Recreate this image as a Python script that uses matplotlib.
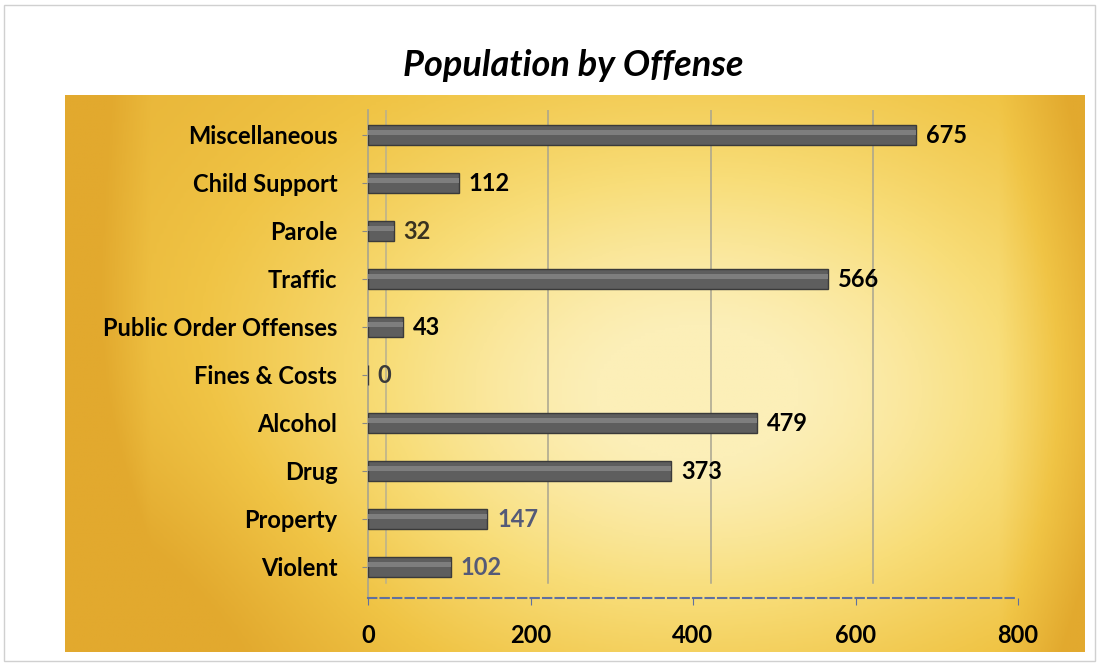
#!/usr/bin/env python3
# coding: utf-8

import numpy as np
import matplotlib
matplotlib.use('Agg')
import matplotlib.pyplot as plt
from matplotlib.patches import Rectangle
from matplotlib.colors import LinearSegmentedColormap

# --- data (bottom -> top)
offenses = ['Violent', 'Property', 'Drug', 'Alcohol', 'Fines & Costs',
            'Public Order Offenses', 'Traffic', 'Parole', 'Child Support',
            'Miscellaneous']
population = [102, 147, 373, 479, 0, 43, 566, 32, 112, 675]
x_ticks = [0, 200, 400, 600, 800]

plt.rcParams['font.family'] = ['Lato', 'DejaVu Sans']

fig = plt.figure(figsize=(10.99, 6.66), dpi=100)
fig.patch.set_facecolor('white')

# thin outer frame
fig.patches.append(Rectangle((0.004, 0.008), 0.992, 0.985, transform=fig.transFigure,
                             fill=False, edgecolor='#d0d0d0', lw=1.0))

# --- golden gradient background panel
bg = fig.add_axes([65 / 1099, 1 - 652 / 666, 1020 / 1099, 557 / 666])
gx, gy = np.meshgrid(np.linspace(0, 1, 300), np.linspace(0, 1, 200))
glow = np.exp(-(((gx - 0.62) / 0.45) ** 2 + ((gy - 0.45) / 0.55) ** 2))
edge = np.clip(1 - np.minimum(gx, 1 - gx) * 12, 0, 1) * 0.35
corner = np.exp(-((gx / 0.25) ** 2 + (gy / 0.35) ** 2)) * 0.3
shade = np.clip(glow - edge - corner + 0.1 * gy, 0, 1)
gold = LinearSegmentedColormap.from_list(
    'gold', ['#e2a92e', '#f0c445', '#f8dd78', '#fcefb8'])
bg.imshow(shade, cmap=gold, aspect='auto', extent=[0, 1, 0, 1],
          origin='lower', vmin=0, vmax=1)
bg.set_axis_off()

# --- main axes
ax = fig.add_axes([368 / 1099, 1 - 598 / 666, 650 / 1099, 488 / 666])
ax.patch.set_alpha(0)
ypos = np.arange(len(offenses))

# back "3D" gridlines, shifted a bit right
for xt in x_ticks[1:-1]:
    ax.axvline(xt + 22, ymin=0.03, ymax=1.0, color='#a8a490', lw=1.1, zorder=1)
ax.axvline(22, ymin=0.03, ymax=1.0, color='#b8b090', lw=1.1, zorder=1)

bars = ax.barh(ypos, population, height=0.42, color='#5e5e5e',
               edgecolor='#3a3a3a', linewidth=1.0, zorder=3)
ax.barh(ypos + 0.05, population, height=0.12, color='#7e7e7e',
        linewidth=0, zorder=4)

label_colors = ['#545a78', '#545a78', 'black', 'black', '#3a3a3a',
                'black', 'black', '#3a3320', 'black', 'black']
for y, v, c in zip(ypos, population, label_colors):
    ax.text(v + 12, y - 0.02, str(v), va='center', ha='left', fontsize=17,
            fontweight='bold', color=c, zorder=5)

ax.set_xlim(0, 800)
ax.set_ylim(-0.65, 9.52)
ax.set_xticks(x_ticks)
ax.set_xticklabels([str(t) for t in x_ticks], fontsize=17, fontweight='bold')
ax.set_yticks(ypos)
ax.set_yticklabels(offenses, fontsize=17, fontweight='bold')
ax.tick_params(axis='y', length=4, pad=18, color='#888888')
ax.tick_params(axis='x', length=5, pad=14, color='#6070a0')

for s in ['top', 'right']:
    ax.spines[s].set_visible(False)
ax.spines['left'].set_color('#a8a490')
ax.spines['left'].set_linewidth(1.2)
ax.spines['bottom'].set_color('#6070a0')
ax.spines['bottom'].set_linestyle((0, (4, 2)))
ax.spines['bottom'].set_linewidth(1.5)

fig.text(0.522, 0.902, 'Population by Offense', ha='center', va='center',
         fontsize=26, fontweight='bold', fontstyle='italic', color='black')

fig.savefig('out.png', dpi=100)
